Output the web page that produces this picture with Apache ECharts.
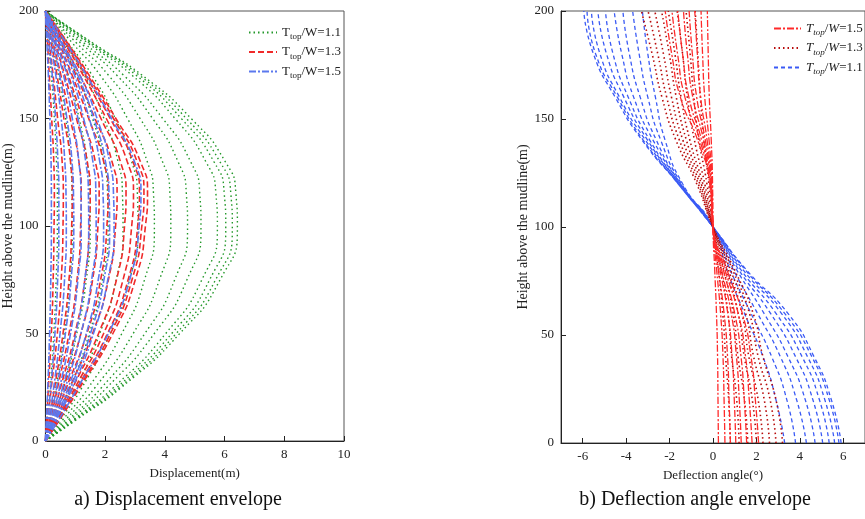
<!DOCTYPE html>
<html><head><meta charset="utf-8">
<script src="https://cdn.jsdelivr.net/npm/echarts@6/dist/echarts.min.js"></script>
<style>html,body{margin:0;padding:0;background:#fff}#c{width:865px;height:519px}</style>
</head><body><div id="c"></div>
<script>
// ---- Panel a: displacement envelopes (height in m, displacement in m) ----
var dispHeights = [0, 10, 25, 50, 75, 100, 115, 130, 150, 170, 185, 200];
var dispTW11 = [
  [0,0.07,0.16,0.28,0.36,0.4,0.4,0.37,0.3,0.2,0.1,0],
  [0,0.15,0.36,0.63,0.82,0.9,0.89,0.84,0.68,0.45,0.22,0],
  [0,0.24,0.6,1.05,1.37,1.5,1.49,1.4,1.13,0.76,0.37,0],
  [0,0.34,0.83,1.47,1.91,2.1,2.08,1.96,1.58,1.06,0.52,0],
  [0,0.42,1.03,1.82,2.37,2.6,2.58,2.43,1.96,1.31,0.65,0],
  [0,0.51,1.23,2.17,2.82,3.1,3.08,2.89,2.34,1.57,0.77,0],
  [0,0.59,1.45,2.56,3.32,3.65,3.62,3.41,2.75,1.84,0.91,0],
  [0,0.68,1.67,2.94,3.82,4.2,4.17,3.92,3.17,2.12,1.05,0],
  [0,0.78,1.89,3.33,4.33,4.76,4.72,4.44,3.59,2.4,1.19,0],
  [0,0.85,2.07,3.65,4.74,5.21,5.17,4.86,3.93,2.63,1.3,0],
  [0,0.94,2.29,4.03,5.24,5.76,5.71,5.37,4.34,2.91,1.43,0],
  [0,0.98,2.4,4.23,5.5,6.04,5.99,5.64,4.55,3.05,1.5,0],
  [0,1.02,2.49,4.38,5.7,6.26,6.21,5.84,4.72,3.16,1.56,0],
  [0,1.05,2.55,4.5,5.85,6.43,6.38,6.02,4.88,3.25,1.6,0]
];
var dispTW13 = [
  [0,0.04,0.1,0.2,0.26,0.29,0.3,0.28,0.21,0.13,0.07,0],
  [0,0.08,0.2,0.4,0.53,0.59,0.6,0.56,0.41,0.26,0.13,0],
  [0,0.13,0.31,0.59,0.79,0.88,0.9,0.84,0.62,0.39,0.2,0],
  [0,0.17,0.41,0.79,1.06,1.18,1.2,1.12,0.83,0.52,0.26,0],
  [0,0.21,0.51,0.99,1.32,1.47,1.5,1.4,1.04,0.65,0.33,0],
  [0,0.25,0.61,1.19,1.58,1.76,1.8,1.67,1.24,0.77,0.4,0],
  [0,0.29,0.71,1.39,1.85,2.06,2.1,1.95,1.45,0.9,0.46,0],
  [0,0.34,0.82,1.58,2.11,2.35,2.4,2.23,1.66,1.03,0.53,0],
  [0,0.38,0.92,1.78,2.38,2.65,2.7,2.51,1.86,1.16,0.59,0],
  [0,0.41,1.0,1.95,2.6,2.89,2.95,2.74,2.04,1.27,0.65,0],
  [0,0.44,1.07,2.08,2.77,3.09,3.15,2.93,2.17,1.35,0.69,0],
  [0,0.46,1.12,2.18,2.9,3.23,3.3,3.07,2.28,1.42,0.73,0],
  [0,0.48,1.16,2.26,3.01,3.35,3.42,3.18,2.36,1.47,0.75,0]
];
var dispTW15 = [
  [0,0.03,0.08,0.14,0.18,0.2,0.2,0.19,0.15,0.1,0.05,0],
  [0,0.07,0.18,0.32,0.41,0.45,0.45,0.42,0.34,0.23,0.11,0],
  [0,0.11,0.28,0.49,0.64,0.7,0.69,0.65,0.53,0.35,0.17,0],
  [0,0.15,0.38,0.67,0.86,0.95,0.94,0.89,0.72,0.48,0.24,0],
  [0,0.2,0.48,0.84,1.09,1.2,1.19,1.12,0.9,0.61,0.3,0],
  [0,0.24,0.58,1.02,1.32,1.45,1.44,1.35,1.09,0.73,0.36,0],
  [0,0.28,0.67,1.19,1.55,1.7,1.69,1.59,1.28,0.86,0.42,0],
  [0,0.32,0.77,1.37,1.77,1.95,1.93,1.82,1.47,0.98,0.49,0],
  [0,0.35,0.85,1.51,1.96,2.15,2.13,2.01,1.62,1.09,0.54,0],
  [0,0.37,0.91,1.61,2.09,2.3,2.28,2.15,1.73,1.16,0.57,0],
  [0,0.45,1.09,2.11,2.82,3.14,3.2,2.98,2.21,1.38,0.7,0]
];
// ---- Panel b: deflection angle envelopes (height in m, angle in degrees) ----
var angHeights = [0, 20, 40, 60, 80, 100, 120, 140, 160, 180, 200];
var angTW11 = [
  [3.3,2.9,2.3,1.45,0.65,0,-1.4,-2.2,-2.65,-3.0,-3.25],
  [3.8,3.4,2.7,1.75,0.8,0,-1.45,-2.4,-3.0,-3.4,-3.7],
  [4.3,3.85,3.1,2.05,0.95,0,-1.5,-2.6,-3.35,-3.85,-4.15],
  [4.7,4.25,3.45,2.35,1.1,0,-1.5,-2.75,-3.65,-4.2,-4.55],
  [5.05,4.6,3.8,2.65,1.2,0,-1.55,-2.9,-3.9,-4.6,-4.95],
  [5.35,4.9,4.1,2.9,1.3,0,-1.55,-3.0,-4.1,-4.9,-5.3],
  [5.6,5.15,4.35,3.15,1.4,0,-1.6,-3.1,-4.3,-5.2,-5.6],
  [5.8,5.35,4.55,3.3,1.5,0,-1.6,-3.2,-4.4,-5.4,-5.8],
  [5.9,5.45,4.65,3.45,1.55,0,-1.6,-3.25,-4.5,-5.5,-5.95]
];
var angTW13 = [
  [0.8,0.72,0.58,0.45,0.25,0,-0.19,-0.42,-0.58,-0.7,-0.82],
  [1.2,1.09,0.86,0.69,0.38,0,-0.28,-0.64,-0.88,-1.05,-1.24],
  [1.6,1.45,1.15,0.93,0.5,0,-0.38,-0.85,-1.18,-1.4,-1.65],
  [2.0,1.81,1.44,1.16,0.63,0,-0.47,-1.06,-1.47,-1.75,-2.06],
  [2.3,2.08,1.65,1.33,0.72,0,-0.54,-1.22,-1.69,-2.01,-2.37],
  [2.6,2.36,1.87,1.5,0.81,0,-0.61,-1.38,-1.91,-2.28,-2.68],
  [2.9,2.63,2.08,1.68,0.91,0,-0.68,-1.54,-2.13,-2.54,-2.99],
  [3.2,2.9,2.3,1.85,1.0,0,-0.75,-1.7,-2.35,-2.8,-3.3]
];
var angTW15 = [
  [0.25,0.23,0.21,0.16,0.08,0,-0.02,-0.08,-0.17,-0.22,-0.26],
  [0.55,0.51,0.46,0.35,0.17,0,-0.04,-0.18,-0.38,-0.48,-0.55],
  [0.8,0.74,0.67,0.51,0.25,0,-0.06,-0.27,-0.57,-0.72,-0.84],
  [1.05,0.98,0.88,0.68,0.33,0,-0.08,-0.35,-0.75,-0.95,-1.1],
  [1.3,1.21,1.08,0.84,0.4,0,-0.09,-0.43,-0.93,-1.18,-1.36],
  [1.55,1.44,1.29,1.0,0.48,0,-0.11,-0.52,-1.11,-1.4,-1.62],
  [1.8,1.67,1.5,1.16,0.56,0,-0.13,-0.6,-1.29,-1.63,-1.89],
  [2.1,1.95,1.75,1.35,0.65,0,-0.15,-0.7,-1.5,-1.9,-2.2]
];
var angTicks = [-6, -4, -2, 0, 2, 4, 6];
var legendA = ['T_top/W=1.1', 'T_top/W=1.3', 'T_top/W=1.5'];
var legendB = ['T_top/W=1.5 ', 'T_top/W=1.3 ', 'T_top/W=1.1 '];

var FONT = '"Liberation Serif","DejaVu Serif",serif';
var chart = echarts.init(document.getElementById('c'));

function mk(list, heights, name, xi, color, type, width, z) {
  return list.map(function (vals) {
    return {
      type: 'line', name: name, xAxisIndex: xi, yAxisIndex: xi,
      data: heights.map(function (h, i) { return [vals[i], h]; }),
      smooth: 0.6, showSymbol: false, symbol: 'none', silent: true, z: z,
      lineStyle: { color: color, type: type, width: width }, itemStyle: { color: color },
      animation: false
    };
  });
}

var series = []
  .concat(mk(dispTW11, dispHeights, legendA[0], 0, '#23982a', [1.5, 3], 1.4, 2))
  .concat(mk(dispTW13, dispHeights, legendA[1], 0, '#f02a2a', [6, 3], 1.6, 3))
  .concat(mk(dispTW15, dispHeights, legendA[2], 0, '#5b78ee', [7, 2, 2, 2], 1.6, 4))
  .concat(mk(angTW11, angHeights, legendB[2], 1, '#3a5af5', [4, 3], 1.3, 2))
  .concat(mk(angTW13, angHeights, legendB[1], 1, '#b80c0c', [1.5, 3], 1.6, 3))
  .concat(mk(angTW15, angHeights, legendB[0], 1, '#ff2a2a', [7, 2, 2, 2], 1.3, 4));

function axisCommon() {
  return {
    axisLine: { show: true, onZero: false, lineStyle: { color: '#222', width: 1 } },
    axisTick: { show: true, inside: true, length: 5, lineStyle: { color: '#222' } },
    axisLabel: { color: '#222', fontFamily: FONT, fontSize: 13, margin: 7 },
    splitLine: { show: false },
    nameTextStyle: { color: '#222', fontFamily: FONT, fontSize: 13 }
  };
}
var xa0 = Object.assign(axisCommon(), { type: 'value', gridIndex: 0, min: 0, max: 10, interval: 2,
  name: 'Displacement(m)', nameLocation: 'middle', nameGap: 26 });
var ya0 = Object.assign(axisCommon(), { type: 'value', gridIndex: 0, min: 0, max: 200, interval: 50,
  name: 'Height above the mudline(m)', nameLocation: 'middle', nameGap: 28 });
var xa1 = Object.assign(axisCommon(), { type: 'value', gridIndex: 1, min: -7, max: 7,
  name: 'Deflection angle(°)', nameLocation: 'middle', nameGap: 26 });
xa1.axisLabel = Object.assign({}, xa1.axisLabel, { customValues: angTicks });
xa1.axisTick = Object.assign({}, xa1.axisTick, { customValues: angTicks });
var ya1 = Object.assign(axisCommon(), { type: 'value', gridIndex: 1, min: 0, max: 200, interval: 50,
  name: 'Height above the mudline(m)', nameLocation: 'middle', nameGap: 26 });
ya0.nameTextStyle = Object.assign({}, ya0.nameTextStyle, { fontSize: 14 });
ya1.nameTextStyle = Object.assign({}, ya1.nameTextStyle, { fontSize: 14 });

function legendFmt(italic) {
  return function (name) {
    var v = name.trim().split('=')[1];
    if (italic) return '{i|T}{si|top}{n|/}{i|W}{n|=' + v + '}';
    return '{n|T}{s|top}{n|/W=' + v + '}';
  };
}
var rich = {
  n: { fontFamily: FONT, fontSize: 13, color: '#222', lineHeight: 18, verticalAlign: 'middle' },
  i: { fontFamily: FONT, fontSize: 13, color: '#222', fontStyle: 'italic', lineHeight: 18, verticalAlign: 'middle' },
  s: { fontFamily: FONT, fontSize: 9, color: '#222', lineHeight: 18, verticalAlign: 'bottom' },
  si: { fontFamily: FONT, fontSize: 9, color: '#222', fontStyle: 'italic', lineHeight: 18, verticalAlign: 'bottom' }
};

var option = {
  backgroundColor: '#fff',
  animation: false,
  grid: [
    { left: 45, top: 11, width: 299, height: 430, show: true, borderColor: '#555', borderWidth: 1, backgroundColor: 'transparent' },
    { left: 561, top: 11, width: 307, height: 432, show: true, borderColor: '#555', borderWidth: 1, backgroundColor: 'transparent' }
  ],
  xAxis: [xa0, xa1],
  yAxis: [ya0, ya1],
  legend: [
    { data: legendA, orient: 'vertical', left: 243, top: 21, itemWidth: 28, itemHeight: 14, itemGap: 4,
      formatter: legendFmt(false), textStyle: { rich: rich }, selectedMode: false, itemStyle: { opacity: 0 } },
    { data: legendB, orient: 'vertical', left: 768, top: 17, itemWidth: 27, itemHeight: 14, itemGap: 4,
      formatter: legendFmt(true), textStyle: { rich: rich }, selectedMode: false, itemStyle: { opacity: 0 } }
  ],
  graphic: [
    { type: 'text', style: { text: 'a) Displacement envelope', font: '20px ' + FONT, fill: '#111', x: 178, y: 500, align: 'center', verticalAlign: 'middle' } },
    { type: 'text', style: { text: 'b) Deflection angle envelope', font: '20px ' + FONT, fill: '#111', x: 695, y: 500, align: 'center', verticalAlign: 'middle' } }
  ],
  series: series
};
chart.setOption(option);
</script></body></html>
